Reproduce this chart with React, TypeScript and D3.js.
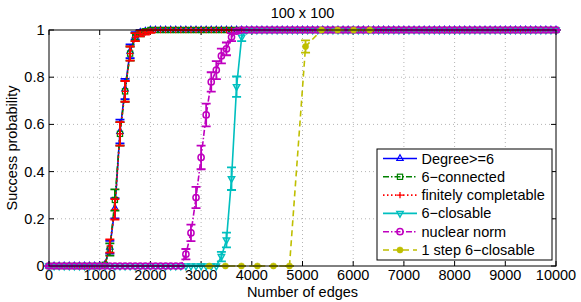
import React from "react";
import * as d3 from "d3";

const W = 581;
const H = 302;

const edges = d3.range(0, 10001, 100);

const degreeVals = [
  0, 0, 0, 0, 0, 0, 0, 0, 0, 0,
  0, 0.005, 0.08, 0.245, 0.57, 0.75, 0.91, 0.975, 0.99, 0.995,
  1, 1, 1, 1, 1, 1, 1, 1, 1, 1,
  1, 1, 1, 1, 1, 1, 1, 1, 1, 1,
  1, 1, 1, 1, 1, 1, 1, 1, 1, 1,
  1, 1, 1, 1, 1, 1, 1, 1, 1, 1,
  1, 1, 1, 1, 1, 1, 1, 1, 1, 1,
  1, 1, 1, 1, 1, 1, 1, 1, 1, 1,
  1, 1, 1, 1, 1, 1, 1, 1, 1, 1,
  1, 1, 1, 1, 1, 1, 1, 1, 1, 1,
  1,
];
const connectedVals = [
  0, 0, 0, 0, 0, 0, 0, 0, 0, 0,
  0, 0.005, 0.07, 0.28, 0.56, 0.74, 0.9, 0.97, 0.985, 0.995,
  1, 1, 1, 1, 1, 1, 1, 1, 1, 1,
  1, 1, 1, 1, 1, 1, 1, 1, 1, 1,
  1, 1, 1, 1, 1, 1, 1, 1, 1, 1,
  1, 1, 1, 1, 1, 1, 1, 1, 1, 1,
  1, 1, 1, 1, 1, 1, 1, 1, 1, 1,
  1, 1, 1, 1, 1, 1, 1, 1, 1, 1,
  1, 1, 1, 1, 1, 1, 1, 1, 1, 1,
  1, 1, 1, 1, 1, 1, 1, 1, 1, 1,
  1,
];
const finitelyVals = [
  0, 0, 0, 0, 0, 0, 0, 0, 0, 0,
  0, 0.005, 0.085, 0.24, 0.56, 0.74, 0.9, 0.97, 0.985, 0.99,
  0.995, 1, 1, 1, 1, 1, 1, 1, 1, 1,
  1, 1, 1, 1, 1, 1, 1, 1, 1, 1,
  1, 1, 1, 1, 1, 1, 1, 1, 1, 1,
  1, 1, 1, 1, 1, 1, 1, 1, 1, 1,
  1, 1, 1, 1, 1, 1, 1, 1, 1, 1,
  1, 1, 1, 1, 1, 1, 1, 1, 1, 1,
  1, 1, 1, 1, 1, 1, 1, 1, 1, 1,
  1, 1, 1, 1, 1, 1, 1, 1, 1, 1,
  1,
];
const closableVals = [
  0, 0, 0, 0, 0, 0, 0, 0, 0, 0,
  0, 0, 0, 0, 0, 0, 0, 0, 0, 0,
  0, 0, 0, 0, 0, 0, 0, 0, 0, 0,
  0, 0, 0, 0, 0.04, 0.11, 0.37, 0.76, 0.97, 1,
  1, 1, 1, 1, 1, 1, 1, 1, 1, 1,
  1, 1, 1, 1, 1, 1, 1, 1, 1, 1,
  1, 1, 1, 1, 1, 1, 1, 1, 1, 1,
  1, 1, 1, 1, 1, 1, 1, 1, 1, 1,
  1, 1, 1, 1, 1, 1, 1, 1, 1, 1,
  1, 1, 1, 1, 1, 1, 1, 1, 1, 1,
  1,
];
const nuclearVals = [
  0, 0, 0, 0, 0, 0, 0, 0, 0, 0,
  0, 0, 0, 0, 0, 0, 0, 0, 0, 0,
  0, 0, 0, 0, 0, 0, 0, 0.05, 0.14, 0.29,
  0.46, 0.64, 0.78, 0.83, 0.89, 0.92, 0.97, 0.995, 1, 1,
  1, 1, 1, 1, 1, 1, 1, 1, 1, 1,
  1, 1, 1, 1, 1, 1, 1, 1, 1, 1,
  1, 1, 1, 1, 1, 1, 1, 1, 1, 1,
  1, 1, 1, 1, 1, 1, 1, 1, 1, 1,
  1, 1, 1, 1, 1, 1, 1, 1, 1, 1,
  1, 1, 1, 1, 1, 1, 1, 1, 1, 1,
  1,
];
const stepEdges = [3162, 3479, 3795, 4111, 4427, 4743, 5060, 5376, 5692, 6008, 6325];
const stepVals = [0, 0, 0, 0, 0, 0, 0.93, 1, 1, 1, 1];

const degreeErr: [number, number][] = [[1200, 0.027], [1300, 0.043], [1400, 0.05], [1500, 0.043], [1600, 0.029], [1700, 0.016], [1800, 0.01], [1900, 0.007]];
const connectedErr: [number, number][] = [[1200, 0.026], [1300, 0.045], [1400, 0.05], [1500, 0.044], [1600, 0.03], [1700, 0.017], [1800, 0.012], [1900, 0.007]];
const finitelyErr: [number, number][] = [[1200, 0.028], [1300, 0.043], [1400, 0.05], [1500, 0.044], [1600, 0.03], [1700, 0.017], [1800, 0.012], [1900, 0.01], [2000, 0.007]];
const closableErr: [number, number][] = [[3400, 0.02], [3500, 0.031], [3600, 0.048], [3700, 0.043], [3800, 0.017]];
const nuclearErr: [number, number][] = [[2700, 0.022], [2800, 0.035], [2900, 0.045], [3000, 0.05], [3100, 0.048], [3200, 0.041], [3300, 0.038], [3400, 0.031], [3500, 0.027], [3600, 0.017], [3700, 0.007]];
const stepErr: [number, number][] = [[5060, 0.026]];

const xTicks = [0, 1000, 2000, 3000, 4000, 5000, 6000, 7000, 8000, 9000, 10000];
const yTicks = [0, 0.2, 0.4, 0.6, 0.8, 1];
const yTickLabels = ["0", "0.2", "0.4", "0.6", "0.8", "1"];

const titleText = "100 x 100";
const xLabel = "Number of edges";
const yLabel = "Success probability";

type Marker = "tri" | "sq" | "plus" | "tridown" | "circle" | "dot";

interface Series {
  name: string;
  xs: number[];
  ys: number[];
  err: [number, number][];
  color: string;
  dash: string | undefined;
  marker: Marker;
}

const series: Series[] = [
  { name: "Degree>=6", xs: edges, ys: degreeVals, err: degreeErr, color: "#0000ff", dash: undefined, marker: "tri" },
  { name: "6\u2212connected", xs: edges, ys: connectedVals, err: connectedErr, color: "#008000", dash: "6,2,1.5,2", marker: "sq" },
  { name: "finitely completable", xs: edges, ys: finitelyVals, err: finitelyErr, color: "#ff0000", dash: "1.5,2.5", marker: "plus" },
  { name: "6\u2212closable", xs: edges, ys: closableVals, err: closableErr, color: "#00bfbf", dash: undefined, marker: "tridown" },
  { name: "nuclear norm", xs: edges, ys: nuclearVals, err: nuclearErr, color: "#bf00bf", dash: "6,2,1.5,2", marker: "circle" },
  { name: "1 step 6\u2212closable", xs: stepEdges, ys: stepVals, err: stepErr, color: "#bfbf00", dash: "6,4", marker: "dot" },
];

const FONT = "'Liberation Sans', Arial, Helvetica, sans-serif";
const FS = 14.5;

function MarkerShape({ type, x, y, color }: { type: Marker; x: number; y: number; color: string }) {
  switch (type) {
    case "tri":
      return <path d={`M${x},${y - 3.8}L${x + 3.2},${y + 2}L${x - 3.2},${y + 2}Z`} fill="none" stroke={color} strokeWidth={1.2} />;
    case "tridown":
      return <path d={`M${x},${y + 3.8}L${x + 3.2},${y - 2}L${x - 3.2},${y - 2}Z`} fill="none" stroke={color} strokeWidth={1.4} />;
    case "sq":
      return <rect x={x - 2.6} y={y - 2.6} width={5.2} height={5.2} fill="none" stroke={color} strokeWidth={1.2} />;
    case "plus":
      return <path d={`M${x - 3.2},${y}H${x + 3.2}M${x},${y - 3.2}V${y + 3.2}`} fill="none" stroke={color} strokeWidth={1.3} />;
    case "circle":
      return <circle cx={x} cy={y} r={3.1} fill="none" stroke={color} strokeWidth={1.5} />;
    case "dot":
      return <circle cx={x} cy={y} r={3.1} fill={color} stroke={color} strokeWidth={0.5} />;
  }
}

export default function App() {
  const left = 49, right = 556, top = 30, bottom = 266;
  const x = d3.scaleLinear().domain([0, 10000]).range([left, right]);
  const y = d3.scaleLinear().domain([0, 1]).range([bottom, top]);
  const tick = 5;
  const capHalf = 4.5;

  const legendX = 377, legendY = 149, legendW = 175, legendH = 111;
  const rowY0 = 158.5, rowStep = 18.3;

  return (
    <svg width={W} height={H} style={{ position: "absolute", left: 0, top: 0, background: "#fff" }}>
      <rect x={0} y={0} width={W} height={H} fill="#fff" />
      {xTicks.slice(1, -1).map((t) => (
        <line key={"gx" + t} x1={x(t)} x2={x(t)} y1={top} y2={bottom} stroke="#b4b4b4" strokeWidth={1} strokeDasharray="1,3" />
      ))}
      {yTicks.slice(1, -1).map((t) => (
        <line key={"gy" + t} x1={left} x2={right} y1={y(t)} y2={y(t)} stroke="#b4b4b4" strokeWidth={1} strokeDasharray="1,3" />
      ))}
      {xTicks.map((t) => (
        <g key={"tx" + t}>
          <line x1={x(t)} x2={x(t)} y1={bottom} y2={bottom - tick} stroke="#000" />
          <line x1={x(t)} x2={x(t)} y1={top} y2={top + tick} stroke="#000" />
          <text x={x(t)} y={280} textAnchor="middle" fontFamily={FONT} fontSize={FS}>{t}</text>
        </g>
      ))}
      {yTicks.map((t, i) => (
        <g key={"ty" + t}>
          <line x1={left} x2={left + tick} y1={y(t)} y2={y(t)} stroke="#000" />
          <line x1={right} x2={right - tick} y1={y(t)} y2={y(t)} stroke="#000" />
          <text x={44.5} y={y(t) + 5} textAnchor="end" fontFamily={FONT} fontSize={FS}>{yTickLabels[i]}</text>
        </g>
      ))}
      {series.map((s) => {
        const pts = s.xs.map((xv, i) => [x(xv), y(s.ys[i])] as [number, number]);
        const lineGen = d3.line();
        const errMap = new Map(s.err);
        return (
          <g key={s.name}>
            {s.xs.map((xv, i) => {
              const e = errMap.get(xv) ?? 0;
              const cx = x(xv);
              const y1 = y(s.ys[i] - e);
              const y2 = y(s.ys[i] + e);
              return (
                <path key={"e" + i} d={`M${cx},${y1}V${y2}M${cx - capHalf},${y1}H${cx + capHalf}M${cx - capHalf},${y2}H${cx + capHalf}`} stroke={s.color} strokeWidth={1.8} fill="none" />
              );
            })}
            <path d={lineGen(pts) ?? ""} fill="none" stroke={s.color} strokeWidth={1.6} strokeDasharray={s.dash} />
            {pts.map((p, i) => (
              <MarkerShape key={"m" + i} type={s.marker} x={p[0]} y={p[1]} color={s.color} />
            ))}
          </g>
        );
      })}
      <rect x={left} y={top} width={right - left} height={bottom - top} fill="none" stroke="#000" strokeWidth={1} />
      <rect x={legendX} y={legendY} width={legendW} height={legendH} fill="#fff" stroke="#000" strokeWidth={1} />
      {series.map((s, i) => {
        const ry = rowY0 + i * rowStep;
        return (
          <g key={"lg" + i}>
            <line x1={383} x2={417} y1={ry} y2={ry} stroke={s.color} strokeWidth={1.6} strokeDasharray={s.dash} />
            <MarkerShape type={s.marker} x={400} y={ry} color={s.color} />
            <text x={421.5} y={ry + 5} fontFamily={FONT} fontSize={FS}>{s.name}</text>
          </g>
        );
      })}
      <text x={(left + right) / 2} y={18} textAnchor="middle" fontFamily={FONT} fontSize={FS}>{titleText}</text>
      <text x={(left + right) / 2} y={297} textAnchor="middle" fontFamily={FONT} fontSize={FS}>{xLabel}</text>
      <text transform={`translate(17,${(top + bottom) / 2}) rotate(-90)`} textAnchor="middle" fontFamily={FONT} fontSize={FS}>{yLabel}</text>
    </svg>
  );
}
